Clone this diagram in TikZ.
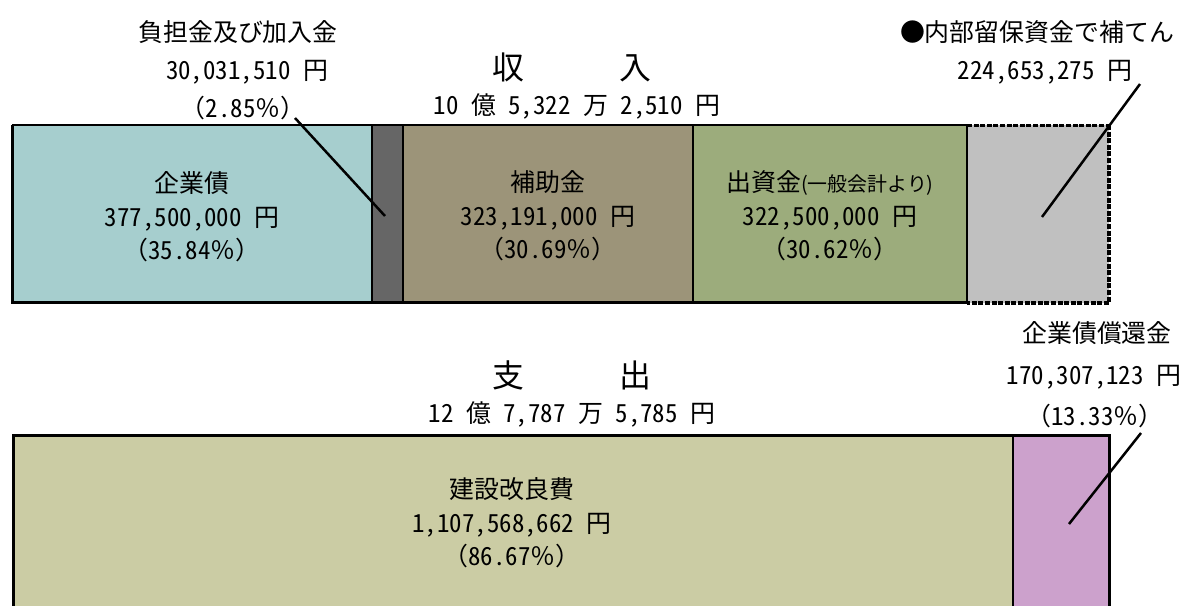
\documentclass[tikz,border=0pt]{standalone}
\usepackage{fontspec}
\setmainfont{Noto Sans CJK JP}
\newfontfamily\hwfont{Noto Sans CJK JP}[RawFeature=+hwid]
\newcommand{\numhw}[1]{{\hwfont #1}}
\definecolor{cCyan}{HTML}{A6CECE}
\definecolor{cDark}{HTML}{666666}
\definecolor{cBrown}{HTML}{9C9479}
\definecolor{cGreen}{HTML}{9CAC7C}
\definecolor{cGray}{HTML}{C0C0C0}
\definecolor{cOlive}{HTML}{CBCCA4}
\definecolor{cPurple}{HTML}{CCA1CC}
\begin{document}
\begin{tikzpicture}[x=1bp,y=-1bp,
  lbl/.style={font=\fontsize{25}{33.5}\selectfont, align=center, inner sep=0pt},
  ttl/.style={font=\fontsize{32}{36}\selectfont, inner sep=0pt},
  lead/.style={line width=2.5bp},
  divline/.style={line width=1.6bp},
  frameline/.style={line width=3bp},
  dashframe/.style={dash pattern=on 5bp off 1.6bp}]
\useasboundingbox (0,0) rectangle (1187,606);
\begin{scope}
\clip (0,0) rectangle (1187,606);
% ---------- top bar ----------
\fill[cCyan]  (12,125) rectangle (372,303);
\fill[cDark]  (372,125) rectangle (403,303);
\fill[cBrown] (403,125) rectangle (693,303);
\fill[cGreen] (693,125) rectangle (967,303);
\fill[cGray]  (967,125) rectangle (1109,303);
\draw[divline] (372,125) -- (372,303);
\draw[divline] (403,125) -- (403,303);
\draw[divline] (693,125) -- (693,303);
\draw[divline] (967,125) -- (967,303);
\draw[line width=2bp] (12,125) -- (967,125);
\draw[frameline] (12,125) -- (12,303) -- (967,303);
\draw[dashframe, line width=2.6bp] (967,125.5) -- (1109,125.5);
\draw[dashframe, line width=3.5bp] (1109,125) -- (1109,303) -- (967,303);
% ---------- bottom bar ----------
\fill[cOlive]  (12,435) rectangle (1013,620);
\fill[cPurple] (1013,435) rectangle (1109,620);
\draw[divline] (1013,435) -- (1013,620);
\draw[frameline] (13,620) -- (13,435) -- (1109,435) -- (1109,620);
\end{scope}
% ---------- texts ----------
\node[lbl] (futan) at (238,32) {負担金及び加入金};
\node[lbl] (futanv) at (247,72) {\numhw{30,031,510 }円};
\node[lbl] (futanp) at (243,108) {（\numhw{2.85}％）};
\node[ttl] (shunyu) at (572,67) {収　　　入};
\node[lbl] (shunyuv) at (577,106) {\numhw{10 }億\numhw{ 5,322 }万\numhw{ 2,510 }円};
\node[lbl] (kigyo) at (192,217) {企業債\\\numhw{377,500,000 }円\\（\numhw{35.84}％）};
\node[lbl] (hojo) at (548,216) {補助金\\\numhw{323,191,000 }円\\（\numhw{30.69}％）};
\node[lbl] (shusshi) at (830,216) {出資金{\fontsize{20}{24}\selectfont (一般会計より)}\\\numhw{322,500,000 }円\\（\numhw{30.62}％）};
\node[lbl] (naibu) at (1037,32) {●内部留保資金で補てん};
\node[lbl] (naibuv) at (1045,72) {\numhw{224,653,275 }円};
\node[lbl] (shokan) at (1097,333) {企業債償還金};
\node[lbl] (shokanv) at (1094,377) {\numhw{170,307,123 }円};
\node[lbl] (shokanp) at (1095,416) {（\numhw{13.33}％）};
\node[ttl] (shishutsu) at (572,375) {支　　　出};
\node[lbl] (shishutsuv) at (572,414) {\numhw{12 }億\numhw{ 7,787 }万\numhw{ 5,785 }円};
\node[lbl] (kensetsu) at (512,523) {建設改良費\\\numhw{1,107,568,662 }円\\（\numhw{86.67}％）};
% ---------- leader lines ----------
\coordinate (l1a) at (295,118);
\coordinate (l1b) at (385,216);
\coordinate (l2a) at (1140,84);
\coordinate (l2b) at (1042,217);
\coordinate (l3a) at (1141,433);
\coordinate (l3b) at (1069,524);
\draw[lead] (l1a) -- (l1b);
\draw[lead] (l2a) -- (l2b);
\draw[lead] (l3a) -- (l3b);
\end{tikzpicture}
\end{document}
